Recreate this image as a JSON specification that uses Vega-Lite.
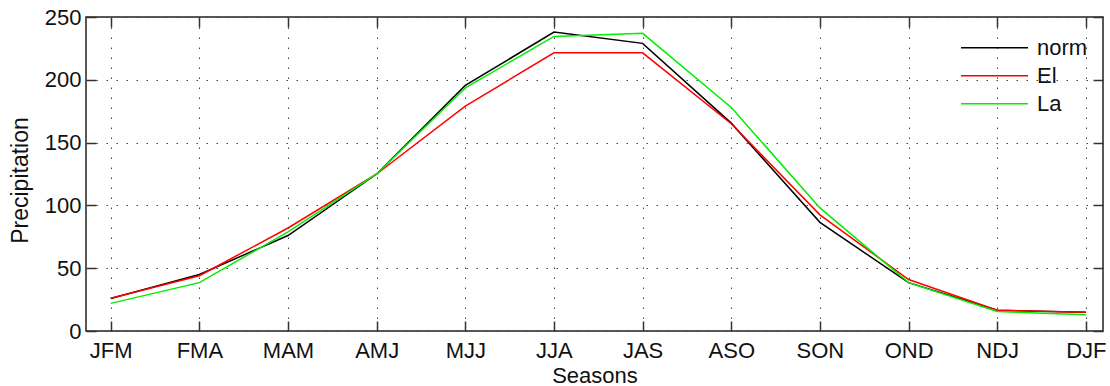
{
  "$schema": "https://vega.github.io/schema/vega-lite/v6.json",
  "width": 1017,
  "height": 314,
  "autosize": {"type": "none"},
  "padding": {"left": 86, "top": 17, "right": 7, "bottom": 55},
  "background": "white",
  "config": {
    "font": "Liberation Sans",
    "view": {"stroke": "#222", "strokeWidth": 1.5},
    "axis": {
      "labelFont": "Liberation Sans",
      "titleFont": "Liberation Sans",
      "labelColor": "#111",
      "titleColor": "#111",
      "labelFontSize": 22,
      "titleFontSize": 22,
      "titleFontWeight": "normal",
      "domain": false,
      "tickColor": "#333",
      "tickWidth": 1.5,
      "tickSize": -10,
      "gridColor": "#444",
      "gridDash": [1.5, 8.5],
      "gridWidth": 1
    },
    "legend": {
      "labelFont": "Liberation Sans",
      "labelFontSize": 22,
      "labelColor": "#111"
    }
  },
  "data": {
    "values": [
      {"season": "JFM", "i": 1, "series": "norm", "value": 25.8},
      {"season": "FMA", "i": 2, "series": "norm", "value": 45},
      {"season": "MAM", "i": 3, "series": "norm", "value": 76},
      {"season": "AMJ", "i": 4, "series": "norm", "value": 125},
      {"season": "MJJ", "i": 5, "series": "norm", "value": 195.5},
      {"season": "JJA", "i": 6, "series": "norm", "value": 238},
      {"season": "JAS", "i": 7, "series": "norm", "value": 229},
      {"season": "ASO", "i": 8, "series": "norm", "value": 165.5},
      {"season": "SON", "i": 9, "series": "norm", "value": 86.5},
      {"season": "OND", "i": 10, "series": "norm", "value": 38.5},
      {"season": "NDJ", "i": 11, "series": "norm", "value": 16.5},
      {"season": "DJF", "i": 12, "series": "norm", "value": 15},
      {"season": "JFM", "i": 1, "series": "El", "value": 26},
      {"season": "FMA", "i": 2, "series": "El", "value": 44},
      {"season": "MAM", "i": 3, "series": "El", "value": 82},
      {"season": "AMJ", "i": 4, "series": "El", "value": 125},
      {"season": "MJJ", "i": 5, "series": "El", "value": 179},
      {"season": "JJA", "i": 6, "series": "El", "value": 221.5},
      {"season": "JAS", "i": 7, "series": "El", "value": 221.5},
      {"season": "ASO", "i": 8, "series": "El", "value": 165},
      {"season": "SON", "i": 9, "series": "El", "value": 92.5},
      {"season": "OND", "i": 10, "series": "El", "value": 41},
      {"season": "NDJ", "i": 11, "series": "El", "value": 16.5},
      {"season": "DJF", "i": 12, "series": "El", "value": 15},
      {"season": "JFM", "i": 1, "series": "La", "value": 22},
      {"season": "FMA", "i": 2, "series": "La", "value": 38.5},
      {"season": "MAM", "i": 3, "series": "La", "value": 79},
      {"season": "AMJ", "i": 4, "series": "La", "value": 125},
      {"season": "MJJ", "i": 5, "series": "La", "value": 193.5},
      {"season": "JJA", "i": 6, "series": "La", "value": 234.5},
      {"season": "JAS", "i": 7, "series": "La", "value": 237},
      {"season": "ASO", "i": 8, "series": "La", "value": 178},
      {"season": "SON", "i": 9, "series": "La", "value": 98},
      {"season": "OND", "i": 10, "series": "La", "value": 38.5},
      {"season": "NDJ", "i": 11, "series": "La", "value": 15.5},
      {"season": "DJF", "i": 12, "series": "La", "value": 13}
    ]
  },
  "layer": [
    {
      "mark": {"type": "line", "strokeWidth": 1.5},
      "encoding": {
        "x": {
          "field": "i",
          "type": "quantitative",
          "scale": {"domain": [0.7214, 12.193], "nice": false, "zero": false},
          "axis": {
            "orient": "bottom",
            "values": [1, 2, 3, 4, 5, 6, 7, 8, 9, 10, 11, 12],
            "labelExpr": "['JFM','FMA','MAM','AMJ','MJJ','JJA','JAS','ASO','SON','OND','NDJ','DJF'][datum.value - 1]",
            "labelPadding": 19,
            "labelFlush": false,
            "labelOverlap": false,
            "title": "Seasons",
            "titlePadding": 4,
            "grid": true
          }
        },
        "y": {
          "field": "value",
          "type": "quantitative",
          "scale": {"domain": [0, 250], "nice": false},
          "axis": {
            "orient": "left",
            "values": [0, 50, 100, 150, 200, 250],
            "labelPadding": 15,
            "title": "Precipitation",
            "titleFontSize": 23,
            "titlePadding": 12,
            "titleY": 163,
            "grid": true
          }
        },
        "color": {
          "field": "series",
          "type": "nominal",
          "scale": {"domain": ["norm", "El", "La"], "range": ["#000000", "#ff0000", "#00ee00"]},
          "legend": {
            "title": null,
            "orient": "none",
            "legendX": 874,
            "legendY": 18,
            "padding": 0,
            "symbolType": "stroke",
            "symbolSize": 4489,
            "symbolStrokeWidth": 1.5,
            "clipHeight": 25.5,
            "rowPadding": 2,
            "labelOffset": 8
          }
        }
      }
    },
    {
      "mark": {"type": "point", "opacity": 0},
      "encoding": {
        "x": {
          "field": "i",
          "type": "quantitative",
          "axis": {
            "orient": "top",
            "values": [1, 2, 3, 4, 5, 6, 7, 8, 9, 10, 11, 12],
            "labels": false,
            "title": null,
            "grid": false
          }
        },
        "y": {
          "field": "value",
          "type": "quantitative",
          "axis": {
            "orient": "right",
            "values": [0, 50, 100, 150, 200, 250],
            "labels": false,
            "title": null,
            "grid": false
          }
        }
      }
    }
  ],
  "resolve": {"axis": {"x": "independent", "y": "independent"}}
}
